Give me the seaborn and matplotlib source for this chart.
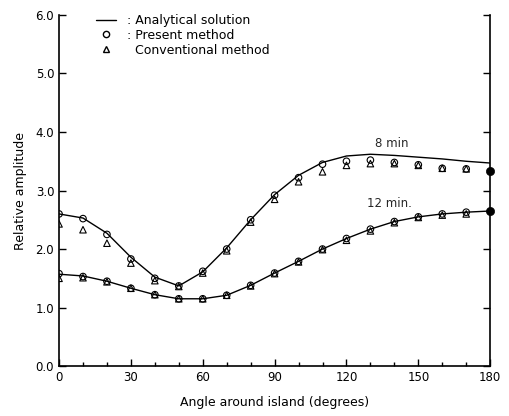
import numpy as np
import pandas as pd
import seaborn as sns
import matplotlib.pyplot as plt
from matplotlib.lines import Line2D
from matplotlib.ticker import MultipleLocator, FormatStrFormatter

sns.set_style("ticks")
plt.rcParams['font.family'] = ['DejaVu Sans']

angle = [0, 10, 20, 30, 40, 50, 60, 70, 80, 90, 100, 110, 120, 130, 140, 150, 160, 170, 180]

# 8 min
exact_8 = [2.60, 2.53, 2.27, 1.86, 1.52, 1.37, 1.61, 2.02, 2.50, 2.93, 3.26, 3.48, 3.59, 3.62, 3.60, 3.57, 3.54, 3.50, 3.47]
present_8 = [2.60, 2.52, 2.25, 1.83, 1.50, 1.37, 1.62, 2.00, 2.50, 2.92, 3.22, 3.45, 3.50, 3.52, 3.48, 3.44, 3.38, 3.37, 3.33]
conv_8 = [2.43, 2.33, 2.10, 1.76, 1.46, 1.36, 1.59, 1.97, 2.46, 2.85, 3.15, 3.32, 3.43, 3.46, 3.46, 3.43, 3.38, 3.37, 3.33]

# 12 min
exact_12 = [1.57, 1.54, 1.45, 1.33, 1.22, 1.15, 1.15, 1.21, 1.38, 1.59, 1.79, 2.00, 2.18, 2.34, 2.47, 2.55, 2.60, 2.63, 2.65]
present_12 = [1.58, 1.53, 1.45, 1.33, 1.22, 1.15, 1.15, 1.21, 1.38, 1.59, 1.79, 2.00, 2.18, 2.34, 2.47, 2.55, 2.60, 2.63, 2.65]
conv_12 = [1.50, 1.51, 1.44, 1.33, 1.22, 1.15, 1.15, 1.21, 1.37, 1.58, 1.78, 1.99, 2.15, 2.31, 2.45, 2.54, 2.58, 2.60, 2.65]

fig = plt.figure(figsize=(5.09, 4.16), dpi=100)
ax = fig.add_axes([0.116, 0.12, 0.847, 0.844])

for ex, pr, cv in [(exact_8, present_8, conv_8), (exact_12, present_12, conv_12)]:
    sns.lineplot(x=angle, y=ex, ax=ax, color='black', linewidth=1.0)
    sns.scatterplot(x=angle[:-1], y=pr[:-1], ax=ax, marker='o', s=22,
                    facecolors='none', edgecolors='black', linewidth=0.8)
    sns.scatterplot(x=angle[:-1], y=cv[:-1], ax=ax, marker='^', s=22,
                    facecolors='none', edgecolors='black', linewidth=0.8)
    sns.scatterplot(x=angle[-1:], y=pr[-1:], ax=ax, marker='o', s=35,
                    color='black', edgecolor='black', clip_on=False, zorder=5)

ax.text(139, 3.74, '8 min', fontsize=8.5, ha='center')
ax.text(138, 2.72, '12 min.', fontsize=8.5, ha='center')

ax.set_xlim(0, 180)
ax.set_ylim(0, 6)
ax.xaxis.set_major_locator(MultipleLocator(30))
ax.xaxis.set_minor_locator(MultipleLocator(10))
ax.yaxis.set_major_locator(MultipleLocator(1))
ax.yaxis.set_major_formatter(FormatStrFormatter('%.1f'))
ax.tick_params(axis='both', which='both', direction='in', labelsize=8.5, width=1,
               color='black', labelcolor='black')
ax.tick_params(axis='y', which='major', right=True, length=5)
ax.tick_params(axis='x', which='major', length=5)
ax.tick_params(axis='x', which='minor', length=3)
ax.spines['top'].set_visible(False)
for s in ['left', 'bottom', 'right']:
    ax.spines[s].set_linewidth(1.2)
    ax.spines[s].set_color('black')

ax.set_xlabel('Angle around island (degrees)', fontsize=9, labelpad=9, color='black')
ax.set_ylabel('Relative amplitude', fontsize=9, labelpad=6, color='black')

handles = [Line2D([], [], color='black', linewidth=1.0),
           Line2D([], [], marker='o', linestyle='', markerfacecolor='none', markeredgecolor='black', markersize=4.5),
           Line2D([], [], marker='^', linestyle='', markerfacecolor='none', markeredgecolor='black', markersize=4.5)]
ax.legend(handles, [': Analytical solution', ': Present method', '  Conventional method'],
          loc='upper left', bbox_to_anchor=(0.06, 1.035), frameon=False, fontsize=9,
          handlelength=1.6, handletextpad=0.9, labelspacing=0.15, labelcolor='black')

fig.savefig('out.png', dpi=100)
